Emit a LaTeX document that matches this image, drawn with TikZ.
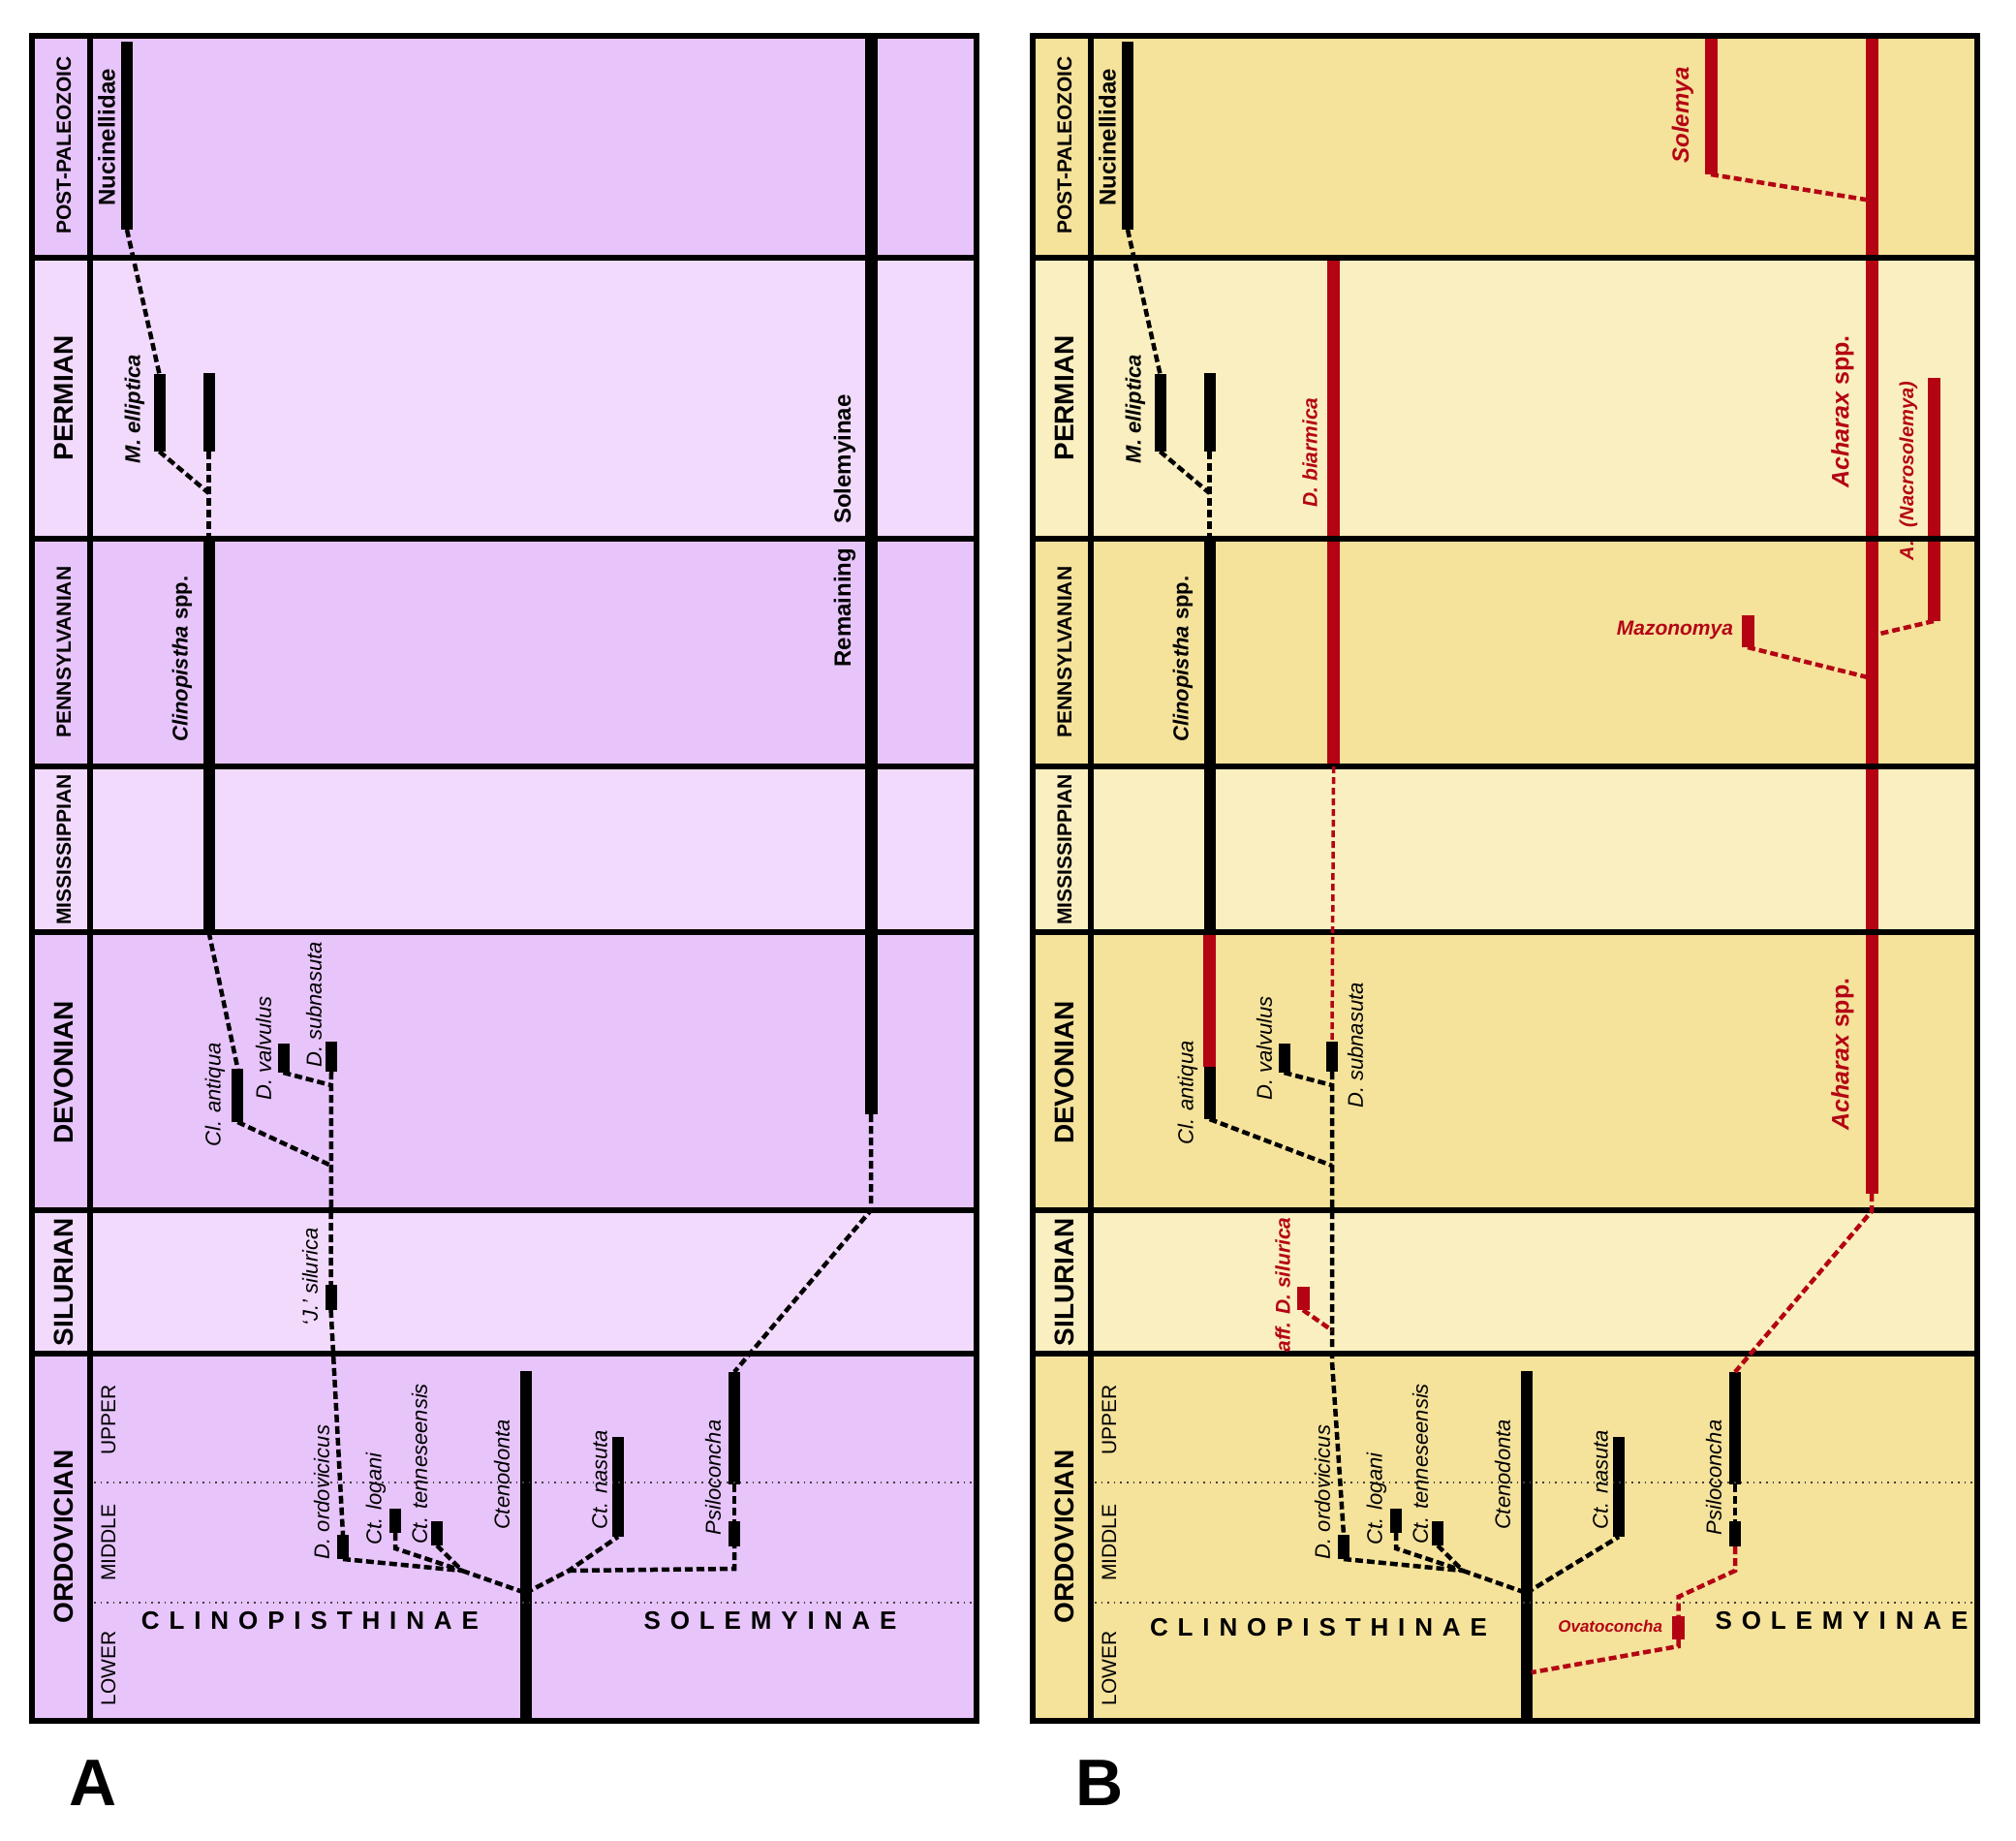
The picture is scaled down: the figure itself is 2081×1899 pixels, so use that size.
\documentclass[tikz,border=0pt]{standalone}
\usepackage{fontspec}
\setmainfont{Liberation Sans}
\definecolor{aDark}{RGB}{231,196,250}
\definecolor{aLight}{RGB}{241,218,251}
\definecolor{bDark}{RGB}{245,226,155}
\definecolor{bLight}{RGB}{250,239,193}
\definecolor{redc}{RGB}{180,4,20}
\tikzset{
  bar/.style={line width=12pt},
  rbar/.style={line width=13pt,draw=redc},
  bdash/.style={line width=4.5pt,dash pattern=on 8pt off 4pt},
  rdash/.style={line width=4.5pt,dash pattern=on 8pt off 4pt,draw=redc},
  rthin/.style={line width=3.5pt,dash pattern=on 7pt off 4pt,draw=redc},
  gridl/.style={line width=5.5pt},
  framel/.style={line width=6pt},
  dotl/.style={line width=1.6pt,dash pattern=on 1.6pt off 5pt,draw=black!75},
  lab/.style={inner sep=0pt,outer sep=0pt},
  per/.style={lab,rotate=90,font=\bfseries\fontsize{28}{30}\selectfont},
  pers/.style={lab,rotate=90,font=\bfseries\fontsize{21}{24}\selectfont},
  subp/.style={lab,rotate=90,font=\fontsize{21}{24}\selectfont},
  spi/.style={lab,rotate=90,font=\itshape\fontsize{22}{24}\selectfont},
  spb/.style={lab,rotate=90,font=\bfseries\fontsize{#1}{#1}\selectfont},
  rsp/.style={lab,rotate=90,text=redc,font=\bfseries\itshape\fontsize{#1}{#1}\selectfont},
  rspu/.style={lab,text=redc,font=\bfseries\itshape\fontsize{#1}{#1}\selectfont},
  grp/.style={lab,font=\bfseries\fontsize{26}{28}\selectfont\addfontfeature{LetterSpace=38}},
  panellab/.style={lab,font=\bfseries\fontsize{68}{70}\selectfont},
}
% ---------- shared pieces (prefix #1) ----------
\newcommand{\panelbg}[2]{%
  \fill[#1] (33,37) rectangle (1008,266);
  \fill[#2] (33,266) rectangle (1008,556);
  \fill[#1] (33,556) rectangle (1008,791);
  \fill[#2] (33,791) rectangle (1008,962);
  \fill[#1] (33,962) rectangle (1008,1249);
  \fill[#2] (33,1249) rectangle (1008,1397);
  \fill[#1] (33,1397) rectangle (1008,1776);
}
\newcommand{\commoncoords}[1]{%
  \coordinate (#1nucT) at (131,43);   \coordinate (#1nucB) at (131,237);
  \coordinate (#1mellT) at (164.5,386); \coordinate (#1mellB) at (164.5,466);
  \coordinate (#1ptT) at (215.6,385); \coordinate (#1ptB) at (215.6,466);
  \coordinate (#1jA) at (215.6,509);
  \coordinate (#1clinT) at (215.6,556); \coordinate (#1clinB) at (215.6,962);
  \coordinate (#1valT) at (292.5,1077); \coordinate (#1valB) at (292.5,1107);
  \coordinate (#1subT) at (342,1075); \coordinate (#1subB) at (342,1106);
  \coordinate (#1jB) at (342,1120); \coordinate (#1jC) at (342,1203);
  \coordinate (#1ordT) at (354,1584); \coordinate (#1ordB) at (354,1609);
  \coordinate (#1logT) at (408,1557); \coordinate (#1logB) at (408,1582);
  \coordinate (#1logK) at (408,1598);
  \coordinate (#1tenT) at (451,1570); \coordinate (#1tenB) at (451,1595);
  \coordinate (#1cA) at (477,1621);
  \coordinate (#1ctT) at (542.6,1415); \coordinate (#1ctB) at (542.6,1775);
  \coordinate (#1root) at (542.6,1644);
  \coordinate (#1nasT) at (638,1483); \coordinate (#1nasB) at (638,1586);
  \coordinate (#1psT) at (758,1416); \coordinate (#1psM) at (758,1532);
  \coordinate (#1psL) at (758,1570); \coordinate (#1psB) at (758,1596);
}
\newcommand{\commonbars}[1]{%
  \draw[bar] (#1nucT) -- (#1nucB);
  \draw[bar] (#1mellT) -- (#1mellB);
  \draw[bar] (#1ptT) -- (#1ptB);
  \draw[bar] (#1clinT) -- (#1clinB);
  \draw[bar] (#1valT) -- (#1valB);
  \draw[bar] (#1subT) -- (#1subB);
  \draw[bar] (#1ordT) -- (#1ordB);
  \draw[bar] (#1logT) -- (#1logB);
  \draw[bar] (#1tenT) -- (#1tenB);
  \draw[bar] (#1ctT) -- (#1ctB);
  \draw[bar] (#1nasT) -- (#1nasB);
  \draw[bar] (#1psT) -- (#1psM);
  \draw[bar] (#1psL) -- (#1psB);
}
\newcommand{\panelgrid}{%
  \foreach \yy in {266,556,791,962,1249,1397} \draw[gridl] (33,\yy) -- (1008,\yy);
  \draw[gridl] (93,37) -- (93,1776);
  \draw[dotl] (97,1530) -- (1005,1530);
  \draw[dotl] (97,1654) -- (1005,1654);
  \draw[framel] (33,37) rectangle (1008,1776);
}
\newcommand{\commonlinks}[1]{%
  \draw[bdash] (#1nucB) -- (#1mellT);
  \draw[bdash] (#1mellB) -- (#1jA);
  \draw[bdash] (#1ptB) -- (#1clinT);
  \draw[bdash] (#1valB) -- (#1jB);
  \draw[bdash] (#1ordB) -- (#1cA);
  \draw[bdash] (#1logB) -- (#1logK) -- (#1cA);
  \draw[bdash] (#1tenB) -- (#1cA);
  \draw[bdash] (#1cA) -- (#1root);
  \draw[bdash] (#1psM) -- (#1psL);
}
\newcommand{\commonlabels}[1]{%
  \node[pers] (#1post) at (66,150) {POST-PALEOZOIC};
  \node[per] (#1perm) at (66,411) {PERMIAN};
  \node[pers] (#1penn) at (66,673) {PENNSYLVANIAN};
  \node[pers] (#1miss) at (66,877) {MISSISSIPPIAN};
  \node[per] (#1dev) at (66,1107) {DEVONIAN};
  \node[per] (#1sil) at (66,1323) {SILURIAN};
  \node[per] (#1ordo) at (66,1586) {ORDOVICIAN};
  \node[subp] (#1up) at (112,1465) {UPPER};
  \node[subp] (#1mid) at (112,1592) {MIDDLE};
  \node[subp] (#1low) at (112,1722) {LOWER};
  \node[spb=24] (#1nucl) at (110,142) {Nucinellidae};
  \node[spb=22] (#1mell) at (139,422) {\itshape M. elliptica};
  \node[spb=22] (#1clinl) at (188,680) {{\itshape Clinopistha} spp.};
  \node[spi] (#1vall) at (272,1082) {D. valvulus};
  \node[spi] (#1ordl) at (332,1540) {D. ordovicicus};
  \node[spi] (#1logl) at (388,1547) {Ct. logani};
  \node[spi] (#1tenl) at (433,1511) {Ct. tenneseensis};
  \node[spi] (#1ctl) at (518,1522) {Ctenodonta};
  \node[spi] (#1nasl) at (619,1527) {Ct. nasuta};
  \node[spi] (#1psl) at (736,1525) {Psiloconcha};
}
\begin{document}
\begin{tikzpicture}[x=1pt,y=-1pt]
\useasboundingbox (0,0) rectangle (2081,1899);
\fill[white] (0,0) rectangle (2081,1899);

% ======================= PANEL A =======================
\begin{scope}
  \panelbg{aDark}{aLight}
  \commoncoords{A}
  \coordinate (AantT) at (245.4,1103); \coordinate (AantB) at (245.4,1158);
  \coordinate (AjsT) at (341.6,1326);  \coordinate (AjsB) at (341.6,1352);
  \coordinate (AsolT) at (899,40);     \coordinate (AsolB) at (899,1150);
  \coordinate (AsolK) at (899,1249);
  \coordinate (AcB) at (587,1621);     \coordinate (AcC) at (758,1619);
  \commonbars{A}
  \draw[bar] (AantT) -- (AantB);
  \draw[bar] (AjsT) -- (AjsB);
  \draw[line width=13pt] (AsolT) -- (AsolB);
  \panelgrid
  \commonlinks{A}
  \draw[bdash] (AclinB) -- (AantT);
  \draw[bdash] (AantB) -- (AjC);
  \draw[bdash] (AsubB) -- (AjsT);
  \draw[bdash] (AjsB) -- (AordT);
  \draw[bdash] (Aroot) -- (AcB) -- (AnasB);
  \draw[bdash] (AcB) -- (AcC) -- (ApsB);
  \draw[bdash] (AsolB) -- (AsolK) -- (ApsT);
  \commonlabels{A}
  \node[spi] (Aantl) at (222,1130) {Cl. antiqua};
  \node[spi] (Asubl) at (324,1037) {D. subnasuta};
  \node[spi] (Ajsl) at (320,1318) {‘J.’ silurica};
  \node[spb=24] (Asoll) at (872,548) {Remaining\hspace{25pt}Solemyinae};
  \node[grp] (Aclino) at (320,1673) {CLINOPISTHINAE};
  \node[grp] (Asole) at (795,1673) {SOLEMYINAE};
  \node[panellab] (Apanel) at (96,1840) {A};
\end{scope}

% ======================= PANEL B =======================
\begin{scope}[xshift=1033pt]
  \panelbg{bDark}{bLight}
  \commoncoords{B}
  \coordinate (BantR) at (215.6,1101); \coordinate (BantB) at (215.6,1155);
  \coordinate (BsubK) at (342,1405);
  \coordinate (BbiT) at (343.6,269);  \coordinate (BbiB) at (343.6,791);
  \coordinate (BafT) at (312,1328);   \coordinate (BafB) at (312,1352);
  \coordinate (BafJ) at (342,1373);
  \coordinate (BacT) at (899,40);     \coordinate (BacB) at (899,1232);
  \coordinate (BacK) at (899,1250);
  \coordinate (BsmT) at (733,40);     \coordinate (BsmB) at (733,180);
  \coordinate (BsmJ) at (899,207);
  \coordinate (BnaT) at (963,390);    \coordinate (BnaB) at (963,641);
  \coordinate (BnaJ) at (899,656);
  \coordinate (BmzT) at (771,635);    \coordinate (BmzB) at (771,668);
  \coordinate (BmzJ) at (899,700);
  \coordinate (BovT) at (699.5,1668); \coordinate (BovB) at (699.5,1692);
  \coordinate (BovA) at (758,1621);   \coordinate (BovK) at (699.5,1648);
  \coordinate (BovL) at (699.5,1699); \coordinate (BovJ) at (548,1726);
  \commonbars{B}
  \draw[rbar] (BclinB) -- (BantR);
  \draw[bar] (BantR) -- (BantB);
  \draw[rbar] (BbiT) -- (BbiB);
  \draw[rbar] (BafT) -- (BafB);
  \draw[rbar] (BacT) -- (BacB);
  \draw[rbar] (BsmT) -- (BsmB);
  \draw[rbar] (BnaT) -- (BnaB);
  \draw[rbar] (BmzT) -- (BmzB);
  \draw[rbar] (BovT) -- (BovB);
  \panelgrid
  \commonlinks{B}
  \draw[bdash] (BantB) -- (BjC);
  \draw[bdash] (BsubB) -- (BsubK) -- (BordT);
  \draw[bdash] (Broot) -- (BnasB);
  \draw[rthin] (BbiB) -- (BsubT);
  \draw[rdash] (BafB) -- (BafJ);
  \draw[rdash] (BsmB) -- (BsmJ);
  \draw[rdash] (BnaB) -- (BnaJ);
  \draw[rdash] (BmzB) -- (BmzJ);
  \draw[rdash] (BacB) -- (BacK) -- (BpsT);
  \draw[rdash] (BpsB) -- (BovA) -- (BovK) -- (BovT);
  \draw[rdash] (BovB) -- (BovL) -- (BovJ);
  \commonlabels{B}
  \node[spi] (Bantl) at (193,1128) {Cl. antiqua};
  \node[spi] (Bsubl) at (366,1079) {D. subnasuta};
  \node[rsp=21] (Bafl) at (291,1326) {aff. D. silurica};
  \node[rsp=21] (Bbil) at (319,467) {D. biarmica};
  \node[rsp=24] (Bsml) at (704,119) {Solemya};
  \node[rsp=25] (Bacl1) at (869,425) {Acharax {\upshape spp.}};
  \node[rsp=25] (Bacl2) at (869,1088) {Acharax {\upshape spp.}};
  \node[rsp=20] (Bnal) at (937,486) {A.\hspace{14pt}(Nacrosolemya)};
  \node[rspu=21,anchor=east] (Bmzl) at (756,650) {Mazonomya};
  \node[rspu=17,anchor=east] (Bovl) at (683,1678) {Ovatoconcha};
  \node[grp] (Bclino) at (328,1680) {CLINOPISTHINAE};
  \node[grp] (Bsole) at (868,1673) {SOLEMYINAE};
  \node[panellab] (Bpanel) at (102,1840) {B};
\end{scope}
\end{tikzpicture}
\end{document}
